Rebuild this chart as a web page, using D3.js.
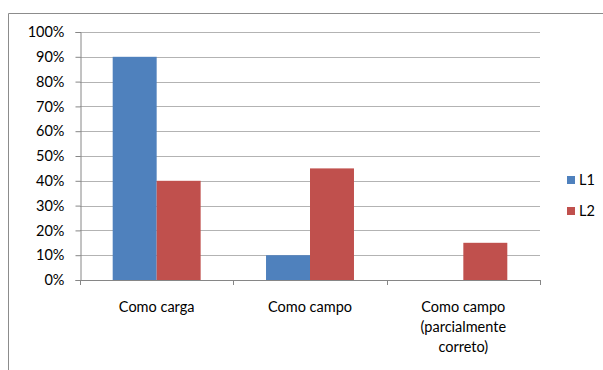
<!DOCTYPE html>
<html><head><meta charset="utf-8">
<script src="https://cdn.jsdelivr.net/npm/d3@7"></script>
<style>body{margin:0;background:#fff}svg{display:block}text{font-family:Lato,"Open Sans",sans-serif;fill:#000}</style>
</head><body><svg id="c" width="603" height="370"></svg>
<script>
const categories = [["Como carga"], ["Como campo"], ["Como campo", "(parcialmente", "correto)"]];
const seriesNames = ["L1", "L2"];
const L1 = [0.90, 0.10, 0.00];
const L2 = [0.40, 0.45, 0.15];
const yTicks = [0,0.1,0.2,0.3,0.4,0.5,0.6,0.7,0.8,0.9,1.0];
const colors = ["#4F81BD", "#C0504D"];
const FS = 14.5;

const svg = d3.select("#c");
svg.append("path").attr("d","M8.5,370 V13.5 H603").attr("fill","none").attr("stroke","#8c8c8c").attr("stroke-width",1);

const x0 = 80, x1 = 540, yTop = 32, yBot = 280;
const x = d3.scaleBand().domain(d3.range(categories.length)).range([x0, x1]).paddingInner(0.4264).paddingOuter(0.2132);
const xs = d3.scaleBand().domain(seriesNames).range([0, x.bandwidth()]);
const y = d3.scaleLinear().domain([0,1]).range([yBot, yTop]);

svg.append("g").selectAll("line").data(yTicks.slice(1)).join("line")
  .attr("x1", x0).attr("x2", x1).attr("y1", d=>Math.round(y(d))+0.5).attr("y2", d=>Math.round(y(d))+0.5)
  .attr("stroke","#b3b3b3").attr("stroke-width",1);

const data = [L1, L2];
seriesNames.forEach((s,si)=>{
  svg.append("g").selectAll("rect").data(data[si]).join("rect")
    .attr("x",(d,i)=>x(i)+xs(s)).attr("width",xs.bandwidth())
    .attr("y",d=>y(d)).attr("height",d=>yBot-y(d)).attr("fill",colors[si]);
});

const yAxis = d3.axisLeft(y).tickValues(yTicks).tickFormat(d=>Math.round(d*100)+"%").tickSize(5).tickPadding(11);
const gy = svg.append("g").attr("transform",`translate(${x0+0.5},0)`).call(yAxis);
gy.select(".domain").attr("stroke","#868686");
gy.selectAll(".tick line").attr("stroke","#868686");
gy.selectAll(".tick text").attr("font-size",FS).style("font-family","Lato,'Open Sans',sans-serif").attr("fill","#000");

svg.append("line").attr("x1",x0).attr("x2",x1).attr("y1",yBot+0.5).attr("y2",yBot+0.5).attr("stroke","#868686");
const step = x.step();
svg.append("g").selectAll("line").data(d3.range(categories.length+1)).join("line")
  .attr("x1",i=>Math.round(x0+i*step)+0.5).attr("x2",i=>Math.round(x0+i*step)+0.5)
  .attr("y1",yBot).attr("y2",yBot+5).attr("stroke","#868686");

const cl = svg.append("g");
categories.forEach((lines,i)=>{
  const t = cl.append("text").attr("text-anchor","middle").attr("font-size",FS);
  lines.forEach((ln,j)=>t.append("tspan").attr("x",x(i)+x.bandwidth()/2).attr("y",312+j*20).text(ln));
});

const lg = svg.append("g");
seriesNames.forEach((s,i)=>{
  lg.append("rect").attr("x",567).attr("y",176+i*31).attr("width",8).attr("height",8).attr("fill",colors[i]);
  lg.append("text").attr("x",579).attr("y",185+i*31).attr("font-size",FS).text(s);
});
</script></body></html>
